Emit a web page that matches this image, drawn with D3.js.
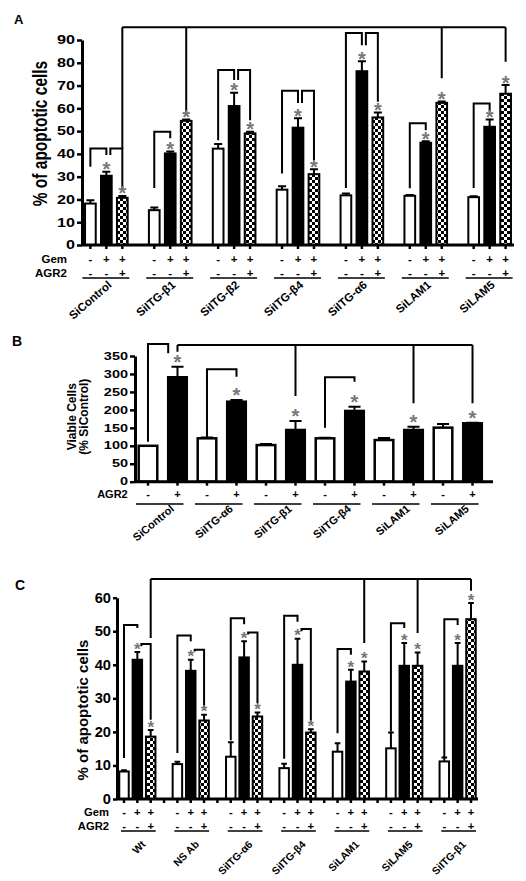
<!DOCTYPE html>
<html><head><meta charset="utf-8">
<script src="https://cdn.jsdelivr.net/npm/d3@7"></script>
<style>
body{margin:0;background:#fff}
svg{display:block}
text{font-family:Arial,"Liberation Sans",sans-serif;font-weight:bold;fill:#000}
</style></head><body><svg id="c" width="526" height="881"></svg>
<script>
// ---------- Panel A data ----------
const groupsA = ["SiControl","SiITG-β1","SiITG-β2","SiITG-β4","SiITG-α6","SiLAM1","SiLAM5"];
const gemSignsA = ["-","+","+"];
const agr2SignsA = ["-","-","+"];
const ctrlA = [18.2,15.3,42.3,24.3,21.8,21.6,21.0];
const ctrlErrA = [1.5,1.2,2.0,1.5,0.8,0.4,0.4];
const gemA = [30.4,40.2,61.0,51.5,76.3,44.9,51.9];
const gemErrA = [1.8,0.8,5.8,4.1,4.4,0.6,3.2];
const agr2A = [20.7,54.5,49.0,31.1,56.0,62.4,66.4];
const agr2ErrA = [0.8,0.6,0.7,2.2,2.2,0.6,3.8];
const yTicksA = [0,10,20,30,40,50,60,70,80,90];
// [group, leftBar, rightBar, top, leftEnd, rightEnd]
const bracketsA = [[0,0,1,42.4,34.3,39.5],[0,1,2,42.4,39.5,24.1],[1,0,1,49.7,25,46.9],
  [2,0,1,76.8,46,72.4],[2,1,2,76.8,72.4,54.8],[3,0,1,67.7,31.4,62.3],[3,1,2,67.7,62.3,37.3],
  [4,0,1,93.1,25,87.7],[4,1,2,93.1,87.7,62.9],[5,0,1,53.4,24.9,50.4],[6,0,1,62.1,25,58.5]];
const hubTopA = 95.6;
const hubLegsA = [[0,2,42.4],[1,2,57],[5,2,73.2],[6,2,80.4]];

// ---------- Panel B data ----------
const groupsB = ["SiControl","SiITG-α6","SiITG-β1","SiITG-β4","SiLAM1","SiLAM5"];
const agr2SignsB = ["-","+"];
const ctrlB = [100,120.8,102,120.8,116,150.5];
const ctrlErrB = [0,2.5,3,1.5,6,10];
const agr2B = [290.8,222.8,144,197,144,162.6];
const agr2ErrB = [29,5,25,12,9,1.5];
const yTicksB = [0,50,100,150,200,250,300,350];
const bracketsB = [[0,0,1,383.6,111.4,357.7],[1,0,1,313,120.9,292.5],[3,0,1,290.8,150.4,278.6]];
const hubTopB = 380.8;
const hubLegsB = [[0,1,361.5],[2,1,238.7],[4,1,218.4],[5,1,218.4]];

// ---------- Panel C data ----------
const groupsC = ["Wt","NS Ab","SiITG-α6","SiITG-β4","SiLAM1","SiLAM5","SiITG-β1"];
const gemSignsC = ["-","+","+"];
const agr2SignsC = ["-","-","+"];
const ctrlC = [8.2,10.4,12.6,9.2,14.1,15.1,11.2];
const ctrlErrC = [0.4,0.7,4.3,1.3,2.5,4.7,1.2];
const gemC = [41.5,38.2,42.2,40.0,35.0,39.7,39.7];
const gemErrC = [2.3,3.3,4.8,7.8,3.5,6.8,6.8];
const agr2C = [18.6,23.4,24.6,19.8,38.0,39.7,53.6];
const agr2ErrC = [2.0,1.7,1.2,1.0,3.0,4.0,4.8];
const yTicksC = [0,10,20,30,40,50,60];
const bracketsC = [[0,0,1,51.9,12.2,51],[0,1,2,46.2,45.5,23.6],[1,0,1,48.7,13.7,47],[1,1,2,44.5,44,26.6],
  [2,0,1,53.9,17.5,52.1],[2,1,2,49.6,49,28.6],[3,0,1,54.6,12,52.8],[3,1,2,50.7,50,23.1],
  [4,0,1,44.7,19.6,43],[5,0,1,52.4,20.1,51],[6,0,1,53.6,12.2,51.9]];
const hubTopC = 65.6;
const hubLegsC = [[0,2,48],[4,2,46.5],[5,2,49.5],[6,2,62.1]];

// ---------- drawing ----------
const svg = d3.select("#c");
const defs = svg.append("defs");
const pat = defs.append("pattern").attr("id","chk").attr("patternUnits","userSpaceOnUse")
  .attr("width",6).attr("height",6);
pat.append("rect").attr("width",6).attr("height",6).attr("fill","#fff");
pat.append("rect").attr("width",3).attr("height",3).attr("fill","#000");
pat.append("rect").attr("x",3).attr("y",3).attr("width",3).attr("height",3).attr("fill","#000");

function drawPanel(c){
  const g = svg.append("g");
  const nG = c.groups.length, nB = c.series.length, spg = c.slotsPerGroup;
  const nSlots = (nG-1)*spg + nB;
  const x = d3.scaleBand().domain(d3.range(nSlots)).range([c.x0,c.x1]).paddingInner(c.pi).paddingOuter(c.po);
  const y = d3.scaleLinear().domain([0,c.yMax]).range([c.yBottom,c.yTop]);
  const bw = x.bandwidth();
  const slot = (gi,b)=>gi*spg+b;
  const cx = (gi,b)=>x(slot(gi,b))+bw/2;

  const bars = [];
  c.groups.forEach((nm,gi)=>c.series.forEach((s,b)=>bars.push({gi,b,v:s.values[gi],e:s.errs[gi],style:s.style,star:s.star})));

  // error bars
  g.append("g").selectAll("path").data(bars.filter(d=>d.e>0)).join("path")
    .attr("d",d=>{const X=cx(d.gi,d.b),t=y(d.v+d.e),h=bw*c.cap/2;return `M${X},${y(d.v)}V${t}M${X-h},${t}H${X+h}`;})
    .attr("stroke","#000").attr("stroke-width",c.errW).attr("fill","none");
  // bars
  g.append("g").selectAll("rect").data(bars).join("rect")
    .attr("x",d=>x(slot(d.gi,d.b))).attr("width",bw)
    .attr("y",d=>y(d.v)).attr("height",d=>y(0)-y(d.v))
    .attr("fill",d=>d.style==="black"?"#000":d.style==="check"?"url(#chk)":"#fff")
    .attr("stroke","#000").attr("stroke-width",c.barStroke);

  // x axis
  const tickVals = c.tickAll ? d3.range(nSlots) : bars.map(d=>slot(d.gi,d.b));
  const xa = g.append("g").attr("transform",`translate(0,${c.yBottom})`)
    .call(d3.axisBottom(x).tickValues(tickVals).tickSize(c.xTickLen).tickSizeOuter(0).tickFormat(""));
  xa.select(".domain").attr("d",`M${c.x0},0H${c.axisEnd}`).attr("stroke-width",c.axisW);
  xa.selectAll(".tick line").attr("stroke-width",c.xTickW);

  // y axis
  const ya = g.append("g").attr("transform",`translate(${c.x0},0)`)
    .call(d3.axisLeft(y).tickValues(c.yTicks).tickSize(c.yTickLen).tickSizeOuter(0));
  ya.select(".domain").attr("stroke-width",c.axisW);
  ya.selectAll(".tick line").attr("stroke-width",c.yTickW);
  ya.selectAll(".tick text").attr("font-size",c.yTickFont).attr("font-family",null)
    .attr("x",-(c.yTickLen+c.yTickPad)/c.yTickSx).attr("transform",`scale(${c.yTickSx},1)`);

  // y label
  c.yLabel.forEach((l,i)=>{
    g.append("text").attr("text-anchor","middle").attr("font-size",c.yLabelFont)
      .attr("transform",`translate(${c.yLabelX[i]},${c.yLabelY}) scale(${c.yLabelSx},1) rotate(-90)`).text(l);
  });

  // Gem / AGR2 sign rows
  c.rows.forEach(r=>{
    g.append("text").attr("text-anchor","end").attr("font-size",c.rowFont)
      .attr("transform",`translate(${c.rowLabelX},${r.y}) scale(${c.rowSx},1)`).text(r.label);
    g.append("g").selectAll("text").data(bars).join("text").attr("text-anchor","middle")
      .attr("font-size",c.rowFont)
      .attr("transform",d=>`translate(${cx(d.gi,d.b)},${r.y}) scale(${c.rowSx},1)`).text(d=>r.signs[d.b]);
  });
  // underlines
  g.append("g").selectAll("line").data(c.groups).join("line")
    .attr("x1",(d,i)=>cx(i,0)-c.ulL).attr("x2",(d,i)=>cx(i,nB-1)+c.ulR)
    .attr("y1",c.ulY).attr("y2",c.ulY).attr("stroke","#000").attr("stroke-width",c.ulW);

  // slanted group labels: rotate about the middle of the text so that the
  // label's end sits at the reference anchor point
  const ang = c.lblRot*Math.PI/180, co = Math.cos(ang), si = Math.sin(ang);
  g.append("g").selectAll("text").data(c.groups).join("text")
    .attr("text-anchor","middle").attr("font-size",c.lblFont).text(d=>d)
    .each(function(d,i){
      const L = this.getComputedTextLength();
      const ex = (cx(i,0)+cx(i,nB-1))/2 + c.lblDx, ey = c.lblY;
      const mx = ex - (L/2)*co, my = ey - (L/2)*si;
      d3.select(this).attr("transform",`translate(${mx},${my}) rotate(${c.lblRot})`);
    });

  // significance brackets
  const bk = g.append("g").attr("fill","none").attr("stroke","#000").attr("stroke-width",c.bkW);
  c.brackets.forEach(([gi,a,b,top,ea,eb])=>{
    let xa_ = cx(gi,a) + (a===1 ? c.bkShift : 0);
    let xb_ = cx(gi,b);
    const hl = c.hubLegs.find(l=>l[0]===gi&&l[1]===b);
    if(hl && hl[2] < top) xb_ -= bw/2;
    bk.append("path").attr("d",`M${xa_},${y(ea)}V${y(top)}H${xb_}V${y(eb)}`);
  });
  const legs = c.hubLegs.map(([gi,b,e])=>({x:cx(gi,b),e}));
  bk.append("path").attr("d",`M${legs[0].x},${y(c.hubTop)}H${legs[legs.length-1].x}`+
    legs.map(l=>`M${l.x},${y(c.hubTop)}V${y(l.e)}`).join(""));

  // asterisks
  g.append("g").selectAll("text").data(bars.filter(d=>d.star)).join("text")
    .attr("text-anchor","middle").attr("font-size",c.starFont).attr("font-weight","normal")
    .style("fill",c.starColor)
    .attr("x",d=>cx(d.gi,d.b)).attr("y",d=>y(d.v+d.e)-c.starGap+0.57*c.starFont).text("*");

  svg.append("text").attr("x",c.letter[1]).attr("y",c.letter[2]).attr("font-size",c.letter[3]).text(c.letter[0]);
}

drawPanel({
  groups:groupsA, slotsPerGroup:4,
  series:[{values:ctrlA,errs:ctrlErrA,style:"white",star:false},
          {values:gemA,errs:gemErrA,style:"black",star:true},
          {values:agr2A,errs:agr2ErrA,style:"check",star:true}],
  x0:82,x1:514,axisEnd:514,pi:0.33,po:0.19,yBottom:245,yTop:40,yMax:90,yTicks:yTicksA,
  barStroke:2,errW:2,cap:0.75,axisW:3,xTickLen:4,xTickW:2.5,yTickLen:5,yTickW:2.5,yTickPad:2,
  yTickFont:12,yTickSx:1.35,tickAll:false,
  yLabel:["% of apoptotic cells"],yLabelX:[47],yLabelY:133.5,yLabelFont:15.5,yLabelSx:1.25,
  rows:[{label:"Gem",signs:gemSignsA,y:263},{label:"AGR2",signs:agr2SignsA,y:276.5}],
  rowLabelX:67,rowFont:10,rowSx:1.15,ulY:278,ulL:8,ulR:7,ulW:1.6,
  lblFont:11.5,lblDx:6,lblY:286,lblRot:-41,
  brackets:bracketsA,hubTop:hubTopA,hubLegs:hubLegsA,bkW:2,bkShift:4,
  starFont:20,starGap:7,starColor:"#777",letter:["A",14,24,13]
});

drawPanel({
  groups:groupsB, slotsPerGroup:2,
  series:[{values:ctrlB,errs:ctrlErrB,style:"white",star:false},
          {values:agr2B,errs:agr2ErrB,style:"black",star:true}],
  x0:135,x1:485.5,axisEnd:493,pi:0.37,po:0.125,yBottom:481.7,yTop:356,yMax:350,yTicks:yTicksB,
  barStroke:2.5,errW:2,cap:0.65,axisW:3,xTickLen:4,xTickW:2.5,yTickLen:5,yTickW:2.5,yTickPad:2,
  yTickFont:10,yTickSx:1.45,tickAll:true,
  yLabel:["Viable Cells","(% SiControl)"],yLabelX:[76,88],yLabelY:416.7,yLabelFont:12,yLabelSx:1,
  rows:[{label:"AGR2",signs:agr2SignsB,y:498}],
  rowLabelX:127.7,rowFont:11,rowSx:1,ulY:504,ulL:12,ulR:6,ulW:1.6,
  lblFont:11,lblDx:12,lblY:510,lblRot:-40,
  brackets:bracketsB,hubTop:hubTopB,hubLegs:hubLegsB,bkW:2,bkShift:4,
  starFont:20,starGap:9,starColor:"#777",letter:["B",12,346,14]
});

drawPanel({
  groups:groupsC, slotsPerGroup:4,
  series:[{values:ctrlC,errs:ctrlErrC,style:"white",star:false},
          {values:gemC,errs:gemErrC,style:"black",star:true},
          {values:agr2C,errs:agr2ErrC,style:"check",star:true}],
  x0:117,x1:478,axisEnd:478,pi:0.29,po:0.17,yBottom:799,yTop:597.7,yMax:60,yTicks:yTicksC,
  barStroke:2,errW:2,cap:0.6,axisW:3,xTickLen:4,xTickW:2.5,yTickLen:4,yTickW:2.5,yTickPad:2,
  yTickFont:14,yTickSx:1.05,tickAll:true,
  yLabel:["% of apoptotic cells"],yLabelX:[88],yLabelY:710,yLabelFont:15,yLabelSx:0.92,
  rows:[{label:"Gem",signs:gemSignsC,y:815.5},{label:"AGR2",signs:agr2SignsC,y:829.5}],
  rowLabelX:109,rowFont:10.5,rowSx:1.07,ulY:831,ulL:3,ulR:5,ulW:1.6,
  lblFont:10.5,lblDx:9,lblY:845,lblRot:-45,
  brackets:bracketsC,hubTop:hubTopC,hubLegs:hubLegsC,bkW:2,bkShift:4,
  starFont:17,starGap:7,starColor:"#777",letter:["C",15,590,14]
});
</script></body></html>
